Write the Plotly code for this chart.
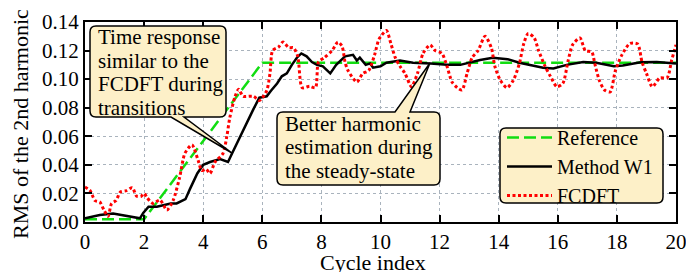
import plotly.graph_objects as go

# ---------------- data ----------------
ref_x = [0, 2, 6, 20]
ref_y = [0.002, 0.002, 0.1115, 0.1115]

w1_x = [0, 0.5, 0.95, 1.4, 1.86, 1.97, 2.15, 2.43, 2.65, 2.9, 3.1, 3.3, 3.4, 3.55, 3.8,
        4.0, 4.23, 4.57, 4.84, 5.0, 5.25, 5.48, 5.7, 5.9, 6.15, 6.3, 6.5, 6.66, 6.83,
        7.0, 7.17, 7.32, 7.5, 7.68, 7.85, 8.05, 8.3, 8.5, 8.8, 9.07, 9.2, 9.3, 9.5,
        9.65, 9.75, 10.0, 10.2, 10.66, 11.1, 11.7, 12.25, 12.7, 13.0, 13.37, 13.8,
        14.3, 14.7, 15.06, 15.5, 15.85, 16.3, 16.86, 17.3, 17.9, 18.2, 18.8, 19.35, 20.0]
w1_y = [0.0026, 0.0049, 0.006, 0.0042, 0.0026, 0.0063, 0.0107, 0.0107, 0.012, 0.013,
        0.013, 0.0154, 0.016, 0.023, 0.034, 0.04, 0.042, 0.044, 0.042, 0.049, 0.06,
        0.069, 0.079, 0.087, 0.088, 0.092, 0.097, 0.102, 0.104, 0.11, 0.115, 0.118,
        0.116, 0.112, 0.11, 0.109, 0.104, 0.11, 0.116, 0.117, 0.113, 0.115, 0.11,
        0.111, 0.108, 0.109, 0.1115, 0.113, 0.1115, 0.111, 0.110, 0.110, 0.1115,
        0.1134, 0.115, 0.114, 0.1115, 0.110, 0.108, 0.1075, 0.110, 0.112, 0.1115,
        0.109, 0.1095, 0.1118, 0.112, 0.111]

fc_x = [0, 0.17, 0.34, 0.5, 0.65, 0.78, 0.9, 1.05, 1.2, 1.4, 1.6, 1.75, 1.9, 2.0, 2.1,
        2.3, 2.54, 2.77, 2.98, 3.2, 3.38, 3.62, 3.83, 3.95, 4.1, 4.23, 4.4, 4.67, 4.8,
        4.9, 5.08, 5.2, 5.35, 5.7, 5.9, 6.15, 6.26, 6.35, 6.55, 6.7, 6.9, 7.05, 7.2,
        7.35, 7.6, 7.8, 7.9, 8.1, 8.36, 8.56, 8.7, 8.8, 8.9, 9.2, 9.4, 9.6, 9.8, 9.95,
        10.2, 10.35, 10.5, 10.66, 10.83, 11.05, 11.25, 11.44, 11.68, 11.85, 12.08,
        12.25, 12.42, 12.6, 12.76, 12.93, 13.1, 13.3, 13.54, 13.75, 13.87, 14.05,
        14.28, 14.5, 14.7, 14.85, 15.0, 15.2, 15.35, 15.57, 15.75, 15.97, 16.17,
        16.35, 16.5, 16.75, 16.93, 17.15, 17.25, 17.4, 17.58, 17.77, 17.95, 18.17,
        18.44, 18.7, 18.85, 19.0, 19.2, 19.45, 19.7, 19.85, 20.0]
fc_y = [0.0245, 0.022, 0.015, 0.014, 0.008, 0.004, 0.013, 0.015, 0.021, 0.022, 0.024,
        0.018, 0.018, 0.020, 0.017, 0.013, 0.0154, 0.0084, 0.015, 0.031, 0.048, 0.054,
        0.043, 0.036, 0.037, 0.034, 0.042, 0.048, 0.06, 0.073, 0.088, 0.093, 0.088,
        0.088, 0.085, 0.092, 0.104, 0.12, 0.1225, 0.126, 0.122, 0.122, 0.116, 0.094,
        0.095, 0.094, 0.112, 0.115, 0.12, 0.126, 0.123, 0.112, 0.106, 0.098, 0.104,
        0.106, 0.117, 0.128, 0.134, 0.125, 0.115, 0.109, 0.104, 0.0947, 0.104, 0.118,
        0.124, 0.12, 0.118, 0.109, 0.098, 0.094, 0.0924, 0.104, 0.115, 0.12, 0.13,
        0.122, 0.109, 0.0994, 0.094, 0.0994, 0.111, 0.125, 0.132, 0.129, 0.12, 0.109,
        0.102, 0.0947, 0.097, 0.113, 0.124, 0.1288, 0.12, 0.119, 0.111, 0.0994,
        0.0924, 0.091, 0.106, 0.117, 0.125, 0.1246, 0.112, 0.104, 0.0947, 0.1008,
        0.101, 0.113, 0.124]

x_ticks = [0, 2, 4, 6, 8, 10, 12, 14, 16, 18, 20]
y_ticks = [0.00, 0.02, 0.04, 0.06, 0.08, 0.10, 0.12, 0.14]

x_title = "Cycle index"
y_title = "RMS of the 2nd harmonic"
note1_lines = ["Time response", "similar to the", "FCDFT during", "transitions"]
note2_lines = ["Better harmonic", "estimation during", "the steady-state"]

# ---------------- layout helpers ----------------
# the page body has an 8px default margin; the figure is sized to fit the window
OFF = 8
W, H = 694 - OFF, 272 - OFF
# plot frame in window pixels
L, R, T, B = 85, 676, 22, 222
FONT = "Liberation Serif, Times New Roman, serif"
BEIGE = "#fdf0c8"


def px(x):
    return (x - L) / (R - L)


def py(y):
    return (B - y) / (B - T)


def callout_path(x0, y0, x1, y1, r, wedge=None):
    """Rounded box in window-pixel coords, optional wedge (side, a, b, tipx, tipy)."""
    pts = []
    pts.append(f"M{px(x0 + r)},{py(y0)}")
    if wedge and wedge[0] == "top":
        _, a, b, tx, ty = wedge
        pts.append(f"L{px(a)},{py(y0)} L{px(tx)},{py(ty)} L{px(b)},{py(y0)}")
    pts.append(f"L{px(x1 - r)},{py(y0)} Q{px(x1)},{py(y0)} {px(x1)},{py(y0 + r)}")
    pts.append(f"L{px(x1)},{py(y1 - r)} Q{px(x1)},{py(y1)} {px(x1 - r)},{py(y1)}")
    if wedge and wedge[0] == "bottom":
        _, a, b, tx, ty = wedge
        pts.append(f"L{px(b)},{py(y1)} L{px(tx)},{py(ty)} L{px(a)},{py(y1)}")
    pts.append(f"L{px(x0 + r)},{py(y1)} Q{px(x0)},{py(y1)} {px(x0)},{py(y1 - r)}")
    pts.append(f"L{px(x0)},{py(y0 + r)} Q{px(x0)},{py(y0)} {px(x0 + r)},{py(y0)} Z")
    return " ".join(pts)


fig = go.Figure()
fig.add_trace(go.Scatter(x=ref_x, y=ref_y, mode="lines", name="Reference",
                         line=dict(color="#11dd11", width=2.5, dash="12px,5px")))
fig.add_trace(go.Scatter(x=w1_x, y=w1_y, mode="lines", name="Method W1",
                         line=dict(color="black", width=2.5)))
fig.add_trace(go.Scatter(x=fc_x, y=fc_y, mode="lines", name="FCDFT",
                         line=dict(color="#ff0000", width=3, dash="3px,2.5px",
                                   shape="spline", smoothing=0.7)))

shapes = [
    dict(type="path", xref="paper", yref="paper", layer="above",
         path=callout_path(90, 26, 226, 117, 6, ("bottom", 171, 184, 232, 153)),
         fillcolor=BEIGE, line=dict(color="black", width=1.5)),
    dict(type="path", xref="paper", yref="paper", layer="above",
         path=callout_path(277, 112, 440, 185, 6, ("top", 395, 410, 430, 63)),
         fillcolor=BEIGE, line=dict(color="black", width=1.5)),
    dict(type="path", xref="paper", yref="paper", layer="above",
         path=callout_path(500, 128, 663, 203, 6),
         fillcolor=BEIGE, line=dict(color="black", width=1.5)),
]

annotations = []
for i, t in enumerate(note1_lines):
    annotations.append(dict(xref="paper", yref="paper", x=px(96), y=py(37 + i * 23.7),
                            xanchor="left", yanchor="middle", text=t, showarrow=False,
                            font=dict(family=FONT, size=21, color="black")))
for i, t in enumerate(note2_lines):
    annotations.append(dict(xref="paper", yref="paper", x=px(283), y=py(124 + i * 23.3),
                            xanchor="left", yanchor="middle", text=t, showarrow=False,
                            font=dict(family=FONT, size=21, color="black")))
# axis titles
annotations.append(dict(xref="paper", yref="paper", x=px(373), y=py(262),
                        xanchor="center", yanchor="middle", text=x_title, showarrow=False,
                        font=dict(family=FONT, size=22, color="black")))
annotations.append(dict(xref="paper", yref="paper", x=px(20), y=py(124),
                        xanchor="center", yanchor="middle", text=y_title, showarrow=False,
                        textangle=-90, font=dict(family=FONT, size=22, color="black")))

axis_common = dict(showline=True, linecolor="black", linewidth=2, mirror="ticks",
                   ticks="inside", ticklen=7, tickwidth=2, tickcolor="black",
                   showgrid=True, gridcolor="#a9b3bd", gridwidth=1, griddash="dot",
                   zeroline=False, automargin=False,
                   tickfont=dict(family=FONT, size=21, color="black"))

fig.update_layout(
    width=W, height=H,
    margin=dict(l=L - OFF, r=694 - R, t=T - OFF, b=272 - B),
    paper_bgcolor="white", plot_bgcolor="white",
    font=dict(family=FONT, color="black"),
    showlegend=True,
    legend=dict(x=px(502), y=py(118), xanchor="left", yanchor="top",
                bgcolor="rgba(0,0,0,0)", borderwidth=0,
                font=dict(family=FONT, size=20, color="black"),
                tracegroupgap=0, itemwidth=45),
    xaxis=dict(range=[0, 20], tickvals=x_ticks, ticktext=[str(v) for v in x_ticks],
               **axis_common),
    yaxis=dict(range=[0, 0.14], tickvals=y_ticks, ticktext=[f"{v:.2f}" for v in y_ticks],
               **axis_common),
    shapes=shapes,
    annotations=annotations,
)

fig.write_html("out.html")
